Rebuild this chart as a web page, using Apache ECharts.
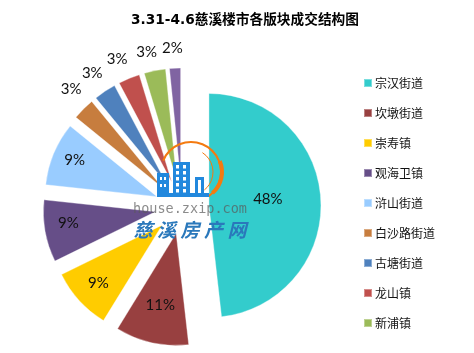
<!DOCTYPE html>
<html>
<head>
<meta charset="utf-8">
<style>html,body{margin:0;padding:0;background:#fff}#main{width:474px;height:353px}</style>
<script src="https://cdn.jsdelivr.net/npm/echarts@6/dist/echarts.min.js"></script>
</head>
<body>
<div id="main"></div>
<script>
var chartTitle = '3.31-4.6慈溪楼市各版块成交结构图';
var names = ['宗汉街道', '坎墩街道', '崇寿镇', '观海卫镇', '浒山街道', '白沙路街道', '古塘街道', '龙山镇', '新浦镇', '其他'];
var values = [48.4, 10.6, 9, 9, 9.2, 3.2, 3.2, 3.1, 3.1, 1.6];
var colors = ['#33cccc', '#984040', '#ffcc00', '#664e88', '#99ccff', '#c77d3e', '#4f81bd', '#c0504d', '#9bbb59', '#8064a2'];
var legendNames = names.slice(0, 9);
var inside = 5; // first five slices have the label inside
var labelDx = [0, -3, -20, -29, -28, 6, 5, 5, 8, 13];
var labelDy = [-3, 14, 18, 1, -14, -17, -15, -16, -15, -16];
var cnFont = '"Noto Sans CJK SC"';

var myChart = echarts.init(document.getElementById('main'));

// logo over the middle of the pie
var blue = '#2288dd';
var orange = '#f47a10';
var logo = [];
function rect(x, y, w, h, fill) {
    logo.push({type: 'rect', z: 10, shape: {x: x, y: y, width: w, height: h}, style: {fill: fill}});
}
function arc(r, a, b, lw, cx, cy) {
    logo.push({type: 'arc', z: 10, shape: {cx: cx, cy: cy, r: r, startAngle: a, endAngle: b, clockwise: true},
        style: {stroke: orange, fill: null, lineWidth: lw}});
}
arc(30, -2.75, 0.95, 2, 191, 172);
arc(28, -0.4, 0.85, 4, 194, 172);
arc(23, -1.0, 0.9, 1, 190, 172);
rect(157, 193, 52, 4, blue);
rect(157, 173, 12, 20, blue);
rect(173, 162, 17, 31, blue);
rect(195, 177, 9, 16, blue);
rect(198, 180, 3, 13, '#fff');
[176, 183].forEach(function(x) {
    [165, 171, 177, 183, 189].forEach(function(y) {
        rect(x, y, 3, 3.5, '#fff');
    });
});
rect(160, 177, 2, 3, '#fff');
rect(164, 177, 2, 3, '#fff');
rect(160, 184, 2, 3, '#fff');
rect(164, 184, 2, 3, '#fff');
logo.push({type: 'text', z: 10, x: 190, y: 209, style: {text: 'house.zxip.com', fill: 'rgba(90,90,90,.7)',
    font: '13.5px "DejaVu Sans Mono"', align: 'center', verticalAlign: 'middle'}});
'慈溪房产网'.split('').forEach(function(c, i) {
    logo.push({type: 'text', z: 10, x: 143 + i * 23.5, y: 230, style: {text: c, fill: '#2a78bb',
        font: 'italic bold 19px ' + cnFont, align: 'center', verticalAlign: 'middle'}});
});

var option = {
    animation: false,
    backgroundColor: '#fff',
    title: {
        text: chartTitle,
        left: 131,
        top: 14,
        padding: 0,
        textStyle: {color: '#000', fontSize: 13.7, fontWeight: 'bold', fontFamily: '"DejaVu Sans", ' + cnFont}
    },
    legend: {
        orient: 'vertical',
        left: 363,
        top: 77,
        padding: 0,
        itemWidth: 8,
        itemHeight: 8,
        itemGap: 18,
        icon: 'rect',
        data: legendNames,
        selectedMode: false,
        textStyle: {color: '#111', fontSize: 12, fontFamily: cnFont, padding: [0, 0, 0, -2]}
    },
    graphic: logo,
    series: [{
        type: 'pie',
        center: [182, 207],
        radius: [0, 112],
        startAngle: 90,
        avoidLabelOverlap: false,
        selectedMode: 'multiple',
        selectedOffset: 27,
        color: colors,
        itemStyle: {borderColor: 'rgba(255,255,255,.35)', borderWidth: 1},
        label: {color: '#111', fontSize: 15, fontFamily: 'Lato'},
        labelLine: {show: false, length: 4, length2: 0},
        labelLayout: function(p) {
            return {dx: labelDx[p.dataIndex], dy: labelDy[p.dataIndex]};
        },
        data: names.map(function(n, i) {
            return {
                name: n,
                value: values[i],
                selected: true,
                label: {position: i < inside ? 'inside' : 'outside', formatter: Math.round(values[i]) + '%'}
            };
        })
    }]
};
myChart.setOption(option);
</script>
</body>
</html>
